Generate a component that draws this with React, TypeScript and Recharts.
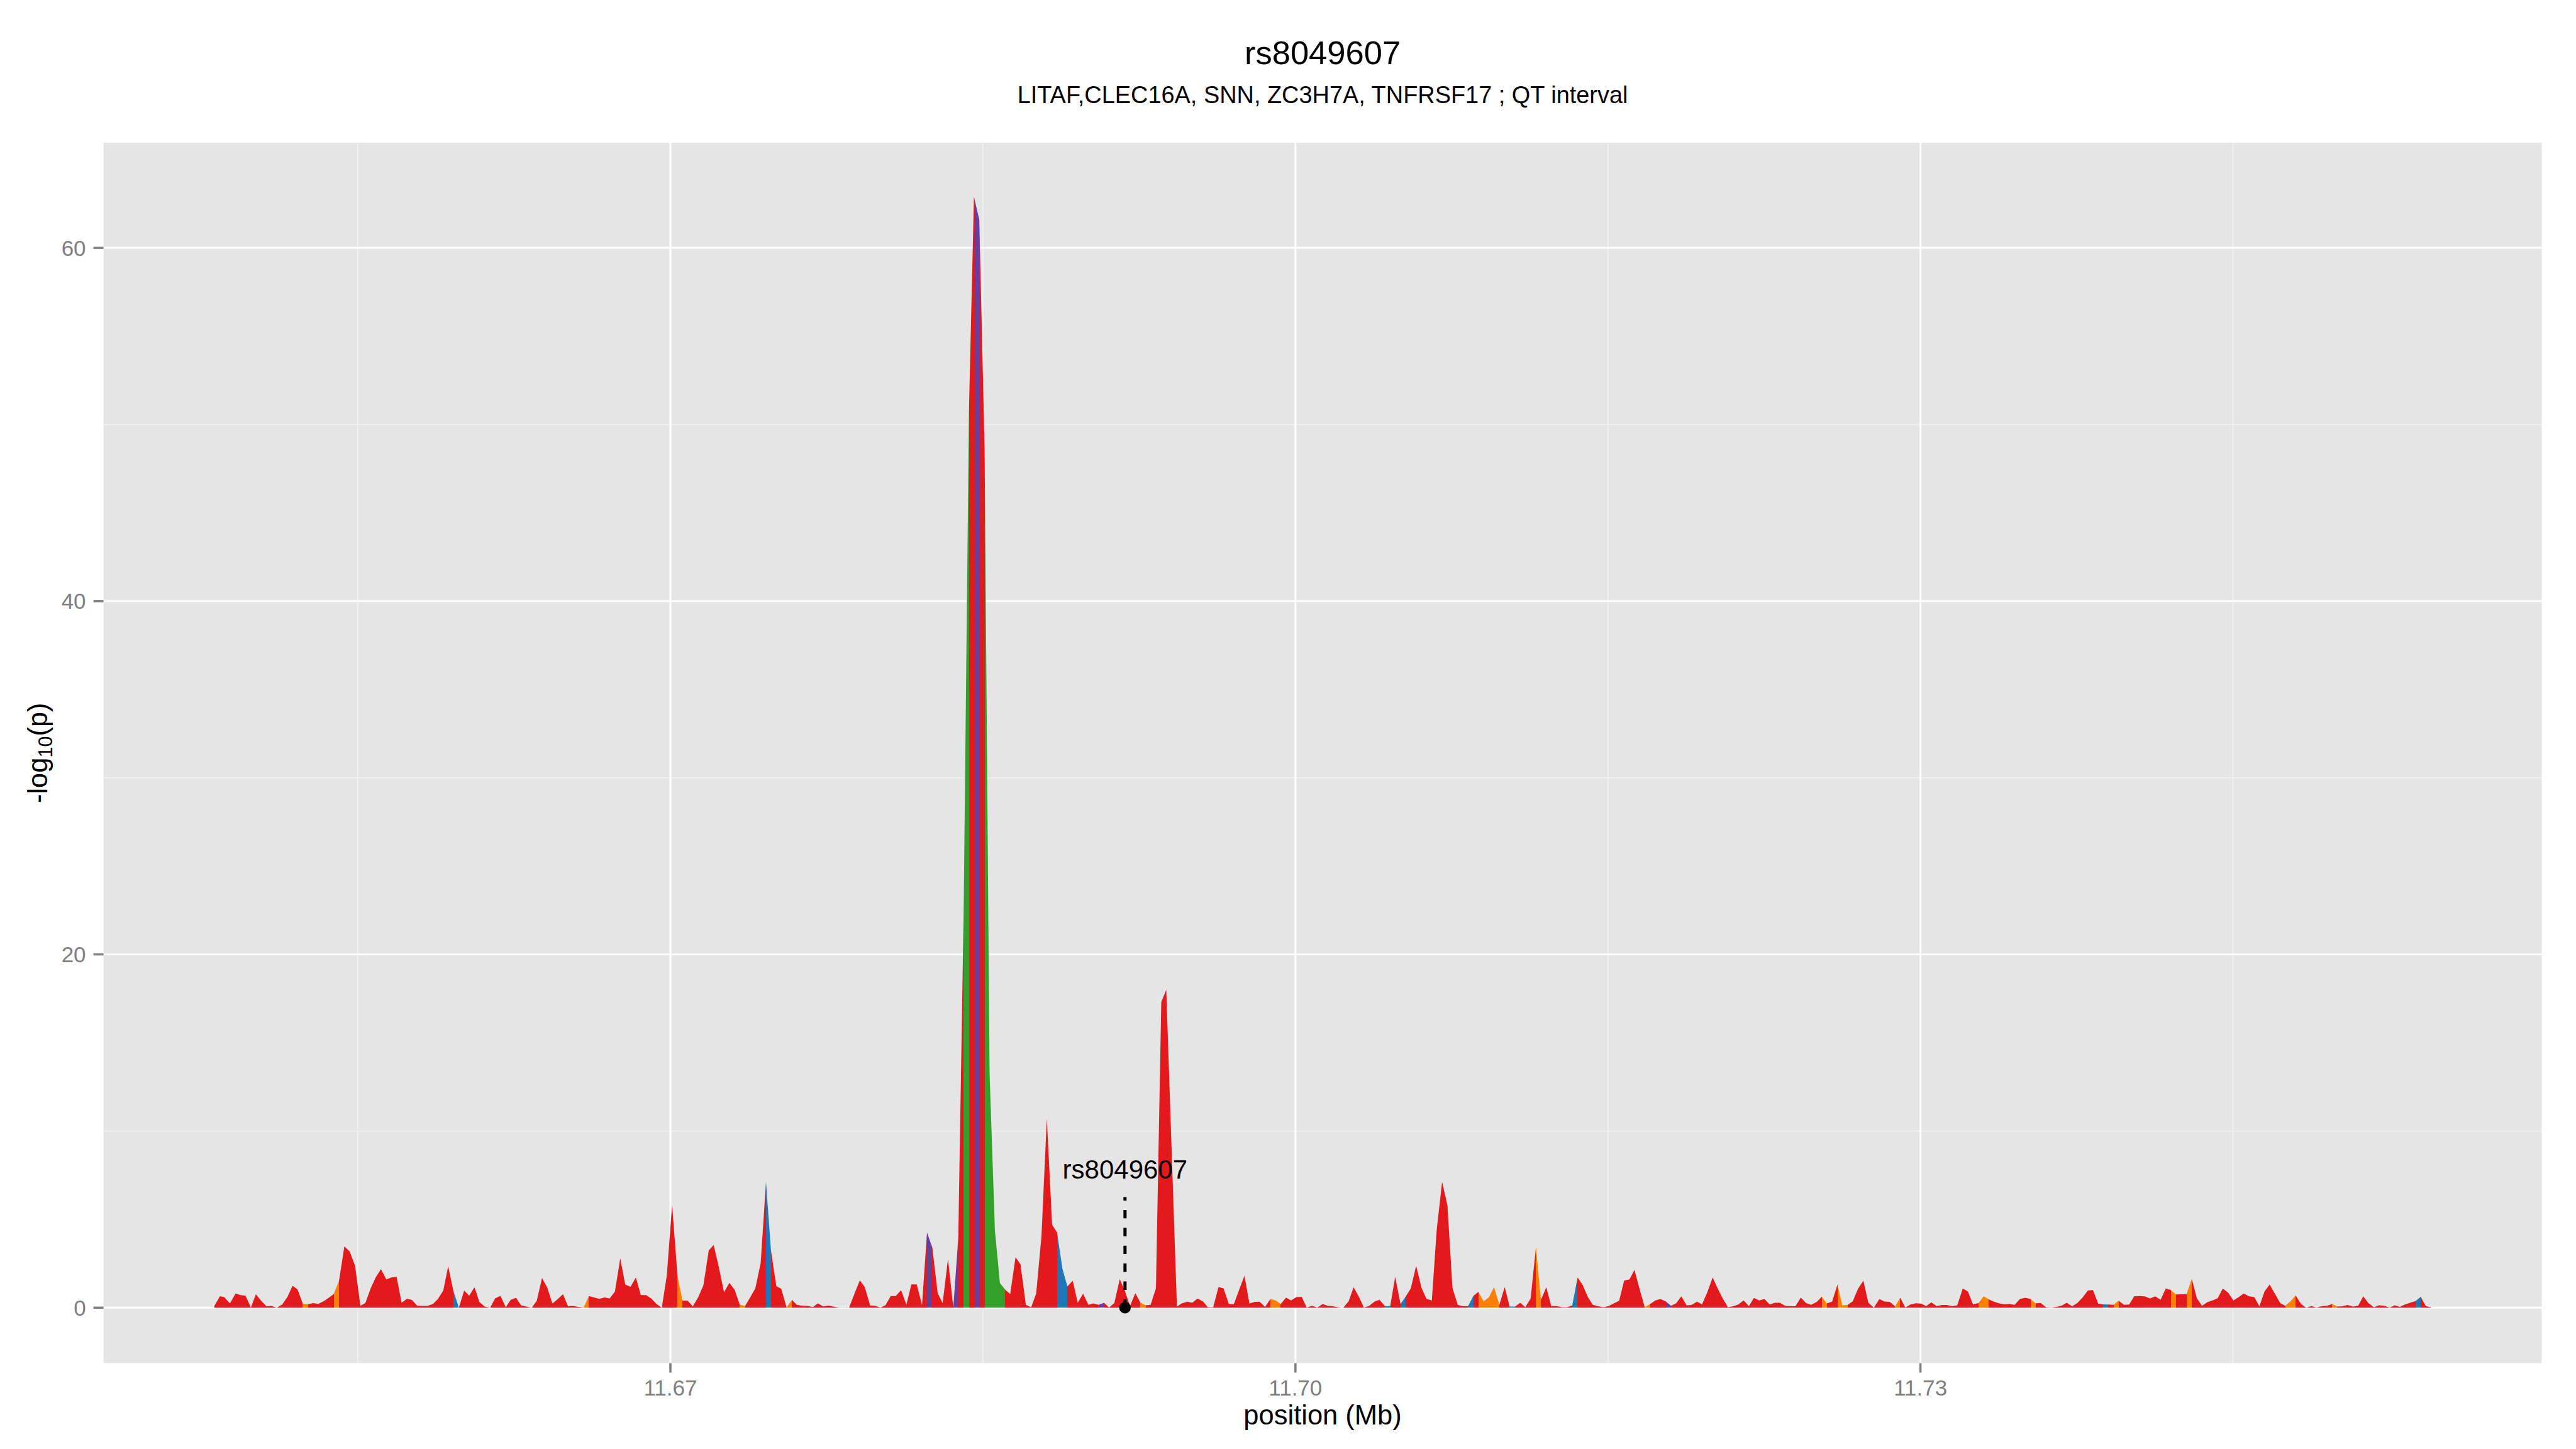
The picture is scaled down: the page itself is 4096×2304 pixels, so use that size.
import React from 'react';
import {
  ComposedChart,
  Area,
  XAxis,
  YAxis,
  CartesianGrid,
  ReferenceLine,
  ReferenceDot,
} from 'recharts';

// ---------------- data ----------------
const TITLE = 'rs8049607';
const SUBTITLE = 'LITAF,CLEC16A, SNN, ZC3H7A, TNFRSF17 ; QT interval';
const X_TITLE = 'position (Mb)';

const X_MAJOR_TICKS = [11670000, 11700000, 11730000];
const X_MINOR_TICKS = [11655000, 11685000, 11715000, 11745000];
const Y_MAJOR_TICKS = [0, 20, 40, 60];
const Y_MINOR_TICKS = [10, 30, 50];

const SNP_NAME = 'rs8049607';
const SNP_POSITION = 11691820;
const SNP_STEM_TOP = 6.26;
const SNP_LABEL_Y = 7.3;

// LD class colour keys
const LD_COLORS: Record<string, string> = {
  r: '#E31A1C',
  o: '#FF7F00',
  b: '#1F78B4',
  g: '#33A02C',
  p: '#6A3D9A',
};

// SNP positions (bp)
const POSITION_BP = [
  11648106, 11648379, 11648584, 11648857, 11649130, 11649368, 11649607, 11649863, 11650102, 11650375,
  11650614, 11650853, 11651109, 11651365, 11651621, 11651860, 11652099, 11652354, 11652610, 11652849,
  11653105, 11653344, 11653600, 11653839, 11654095, 11654351, 11654607, 11654863, 11655119, 11655358,
  11655614, 11655852, 11656108, 11656364, 11656603, 11656859, 11657098, 11657354, 11657593, 11657849,
  11658088, 11658344, 11658600, 11658838, 11659094, 11659333, 11659589, 11659845, 11660101, 11660340,
  11660596, 11660835, 11661091, 11661347, 11661586, 11661842, 11662097, 11662336, 11662592, 11662831,
  11663087, 11663343, 11663582, 11663838, 11664094, 11664333, 11664589, 11664845, 11665083, 11665339,
  11665595, 11665834, 11666090, 11666329, 11666585, 11666841, 11667080, 11667336, 11667592, 11667831,
  11668087, 11668342, 11668581, 11668837, 11669093, 11669332, 11669588, 11669827, 11670083, 11670339,
  11670578, 11670834, 11671073, 11671329, 11671584, 11671840, 11672079, 11672335, 11672574, 11672830,
  11673086, 11673325, 11673581, 11673837, 11674076, 11674332, 11674588, 11674826, 11675082, 11675320,
  11675576, 11675832, 11676071, 11676327, 11676583, 11676839, 11677078, 11677334, 11677573, 11677829,
  11678085, 11678341, 11678579, 11678835, 11679091, 11679330, 11679586, 11679825, 11680081, 11680320,
  11680576, 11680815, 11681071, 11681327, 11681566, 11681821, 11682077, 11682316, 11682572, 11682828,
  11683067, 11683323, 11683579, 11683818, 11684074, 11684330, 11684569, 11684825, 11685080, 11685319,
  11685575, 11685814, 11686070, 11686309, 11686565, 11686804, 11687060, 11687316, 11687555, 11687811,
  11688067, 11688322, 11688561, 11688817, 11689056, 11689312, 11689551, 11689807, 11690063, 11690302,
  11690558, 11690814, 11691053, 11691308, 11691564, 11691803, 11692059, 11692315, 11692554, 11692810,
  11693049, 11693305, 11693561, 11693800, 11694056, 11694312, 11694550, 11694806, 11695045, 11695301,
  11695557, 11695796, 11696052, 11696308, 11696547, 11696803, 11697042, 11697298, 11697553, 11697792,
  11698048, 11698287, 11698543, 11698799, 11699055, 11699294, 11699550, 11699789, 11700045, 11700301,
  11700540, 11700795, 11701051, 11701307, 11701546, 11701802, 11702041, 11702297, 11702553, 11702792,
  11703048, 11703287, 11703543, 11703799, 11704038, 11704294, 11704550, 11704788, 11705044, 11705300,
  11705539, 11705795, 11706051, 11706290, 11706546, 11706785, 11707041, 11707297, 11707536, 11707791,
  11708030, 11708286, 11708542, 11708781, 11709037, 11709293, 11709532, 11709788, 11710044, 11710283,
  11710539, 11710795, 11711033, 11711289, 11711545, 11711784, 11712040, 11712279, 11712535, 11712791,
  11713030, 11713286, 11713542, 11713781, 11714037, 11714275, 11714531, 11714787, 11715026, 11715282,
  11715538, 11715777, 11716033, 11716272, 11716528, 11716767, 11717023, 11717278, 11717517, 11717773,
  11718029, 11718268, 11718524, 11718780, 11719019, 11719275, 11719514, 11719770, 11720026, 11720264,
  11720520, 11720759, 11721015, 11721254, 11721510, 11721766, 11722005, 11722261, 11722517, 11722756,
  11723012, 11723251, 11723506, 11723762, 11724001, 11724257, 11724513, 11724752, 11725008, 11725264,
  11725503, 11725759, 11726015, 11726254, 11726510, 11726748, 11727004, 11727260, 11727499, 11727765,
  11728028, 11728274, 11728520, 11728783, 11729029, 11729275, 11729520, 11729784, 11730029, 11730275,
  11730521, 11730784, 11731030, 11731276, 11731522, 11731767, 11732031, 11732277, 11732522, 11732786,
  11733032, 11733277, 11733523, 11733786, 11734032, 11734278, 11734524, 11734770, 11735033, 11735279,
  11735524, 11735770, 11736034, 11736279, 11736525, 11736771, 11737017, 11737280, 11737526, 11737772,
  11738035, 11738281, 11738527, 11738772, 11739018, 11739264, 11739510, 11739773, 11740019, 11740265,
  11740528, 11740774, 11741020, 11741265, 11741529, 11741774, 11742020, 11742266, 11742529, 11742775,
  11743021, 11743267, 11743512, 11743776, 11744022, 11744267, 11744513, 11744776, 11745022, 11745268,
  11745514, 11745777, 11746023, 11746269, 11746515, 11746760, 11747024, 11747269, 11747515, 11747761,
  11748007, 11748270, 11748516, 11748762, 11749007, 11749253, 11749517, 11749762, 11750008, 11750254,
  11750500, 11750763, 11751009, 11751255, 11751500, 11751764, 11752010, 11752255, 11752519, 11752764,
  11753010, 11753256, 11753502, 11753765, 11754011, 11754257, 11754503,
];

// -log10(p)
const NEG_LOG10_P = [
  0.09, 0.65, 0.6, 0.24, 0.8, 0.71, 0.68, 0.01, 0.76, 0.37,
  0.08, 0.1, 0.0, 0.18, 0.62, 1.24, 1.04, 0.23, 0.2, 0.26,
  0.22, 0.36, 0.56, 0.77, 1.53, 3.47, 3.18, 2.38, 0.11, 0.26,
  1.1, 1.71, 2.18, 1.6, 1.71, 1.75, 0.28, 0.51, 0.44, 0.11,
  0.1, 0.1, 0.21, 0.49, 0.96, 2.34, 0.92, 0.0, 0.97, 0.68,
  1.16, 0.31, 0.06, 0.0, 0.53, 0.67, 0.03, 0.45, 0.56, 0.14,
  0.06, 0.0, 0.38, 1.68, 1.12, 0.23, 0.48, 0.77, 0.08, 0.09,
  0.05, 0.01, 0.66, 0.58, 0.5, 0.58, 0.52, 0.91, 2.79, 1.31,
  1.19, 1.71, 0.71, 0.71, 0.51, 0.21, 0.0, 1.83, 5.83, 1.81,
  0.4, 0.39, 0.07, 0.58, 1.27, 3.24, 3.55, 2.24, 0.87, 1.41,
  1.01, 0.18, 0.09, 0.6, 1.1, 2.52, 7.12, 3.25, 1.22, 1.07,
  0.01, 0.44, 0.16, 0.11, 0.1, 0.04, 0.24, 0.07, 0.12, 0.06,
  0.01, 0.01, 0.01, 0.79, 1.55, 1.17, 0.13, 0.11, 0.01, 0.14,
  0.66, 0.66, 0.99, 0.17, 1.32, 1.32, 0.15, 4.26, 3.4, 0.82,
  0.26, 2.76, 0.01, 3.97, 22.3, 50.8, 62.9, 61.6, 48.7, 13.3,
  4.4, 1.4, 1.02, 0.77, 2.86, 2.46, 0.16, 0.03, 0.79, 4.06,
  10.7, 4.69, 4.26, 2.2, 1.2, 1.53, 0.28, 0.79, 0.16, 0.24,
  0.16, 0.28, 0.01, 0.26, 1.61, 1.0, 0.1, 0.82, 0.3, 0.14,
  0.16, 1.1, 17.3, 18.0, 9.0, 0.06, 0.24, 0.34, 0.28, 0.52,
  0.36, 0.03, 0.03, 1.17, 1.1, 0.21, 0.19, 1.02, 1.81, 0.23,
  0.33, 0.33, 0.05, 0.49, 0.41, 0.21, 0.57, 0.41, 0.6, 0.62,
  0.01, 0.11, 0.01, 0.21, 0.11, 0.08, 0.03, 0.0, 0.36, 1.16,
  0.62, 0.01, 0.11, 0.35, 0.45, 0.09, 0.09, 1.75, 0.21, 0.64,
  1.1, 2.38, 1.12, 0.5, 0.41, 4.46, 7.12, 5.78, 1.12, 0.16,
  0.08, 0.08, 0.67, 0.89, 0.36, 0.6, 1.17, 0.16, 1.17, 0.06,
  0.06, 0.28, 0.03, 0.52, 3.43, 0.44, 1.16, 0.09, 0.09, 0.03,
  0.03, 0.13, 1.71, 1.3, 0.6, 0.16, 0.08, 0.03, 0.09, 0.24,
  0.39, 1.53, 1.6, 2.14, 1.02, 0.03, 0.21, 0.41, 0.49, 0.36,
  0.11, 0.24, 0.64, 0.13, 0.16, 0.34, 0.19, 0.87, 1.71, 1.1,
  0.5, 0.03, 0.08, 0.18, 0.41, 0.09, 0.55, 0.41, 0.49, 0.18,
  0.28, 0.28, 0.11, 0.08, 0.08, 0.57, 0.26, 0.16, 0.31, 0.62,
  0.24, 0.34, 1.3, 0.13, 0.16, 0.36, 1.07, 1.53, 0.28, 0.0,
  0.49, 0.35, 0.33, 0.08, 0.56, 0.01, 0.18, 0.25, 0.23, 0.09,
  0.3, 0.09, 0.15, 0.15, 0.08, 0.14, 1.09, 0.92, 0.19, 0.26,
  0.64, 0.47, 0.34, 0.24, 0.19, 0.21, 0.16, 0.49, 0.56, 0.49,
  0.25, 0.26, 0.03, 0.01, 0.05, 0.11, 0.28, 0.08, 0.26, 0.56,
  0.97, 1.0, 0.23, 0.19, 0.18, 0.16, 0.39, 0.16, 0.18, 0.65,
  0.66, 0.64, 0.52, 0.64, 0.45, 1.09, 1.0, 0.75, 0.76, 0.77,
  1.63, 0.54, 0.11, 0.31, 0.41, 0.54, 1.09, 0.84, 0.41, 0.59,
  0.8, 0.64, 0.6, 0.08, 0.92, 1.31, 0.77, 0.26, 0.11, 0.36,
  0.69, 0.21, 0.0, 0.09, 0.01, 0.08, 0.11, 0.21, 0.06, 0.08,
  0.15, 0.06, 0.11, 0.64, 0.26, 0.03, 0.14, 0.11, 0.01, 0.14,
  0.05, 0.18, 0.28, 0.38, 0.62, 0.09, 0.03,
];

// LD class of the segment that starts at each SNP
const LD_CLASS = [
  'r', 'r', 'r', 'r', 'r', 'r', 'r', 'r', 'r', 'r',
  'r', 'r', 'r', 'r', 'r', 'r', 'r', 'o', 'r', 'r',
  'r', 'r', 'r', 'o', 'r', 'r', 'r', 'r', 'r', 'r',
  'r', 'r', 'r', 'r', 'r', 'r', 'r', 'r', 'r', 'r',
  'r', 'r', 'r', 'r', 'r', 'r', 'b', 'r', 'r', 'r',
  'r', 'r', 'r', 'r', 'r', 'r', 'r', 'r', 'r', 'r',
  'r', 'r', 'r', 'r', 'r', 'r', 'r', 'r', 'r', 'r',
  'r', 'o', 'r', 'r', 'r', 'r', 'r', 'r', 'r', 'r',
  'r', 'r', 'r', 'r', 'r', 'r', 'r', 'r', 'r', 'o',
  'r', 'r', 'r', 'r', 'r', 'r', 'r', 'r', 'r', 'r',
  'r', 'o', 'r', 'r', 'r', 'r', 'b', 'r', 'r', 'r',
  'o', 'r', 'r', 'r', 'r', 'r', 'r', 'r', 'r', 'r',
  'b', 'r', 'r', 'r', 'r', 'r', 'r', 'r', 'r', 'r',
  'r', 'r', 'r', 'r', 'r', 'r', 'r', 'p', 'r', 'r',
  'r', 'r', 'p', 'r', 'g', 'r', 'p', 'r', 'g', 'g',
  'g', 'g', 'r', 'r', 'r', 'r', 'r', 'r', 'r', 'r',
  'r', 'r', 'b', 'b', 'r', 'r', 'r', 'r', 'r', 'r',
  'p', 'r', 'r', 'r', 'r', 'r', 'r', 'r', 'o', 'r',
  'r', 'r', 'r', 'r', 'r', 'r', 'r', 'r', 'r', 'r',
  'r', 'r', 'r', 'r', 'r', 'r', 'r', 'r', 'r', 'r',
  'r', 'r', 'r', 'o', 'o', 'r', 'r', 'r', 'r', 'r',
  'r', 'r', 'r', 'r', 'r', 'r', 'r', 'r', 'r', 'r',
  'r', 'r', 'r', 'r', 'r', 'b', 'r', 'r', 'b', 'r',
  'r', 'r', 'r', 'r', 'r', 'r', 'r', 'r', 'r', 'r',
  'r', 'b', 'r', 'o', 'o', 'o', 'o', 'r', 'r', 'b',
  'r', 'r', 'r', 'r', 'o', 'r', 'r', 'r', 'r', 'r',
  'r', 'b', 'r', 'r', 'r', 'r', 'r', 'r', 'r', 'r',
  'r', 'r', 'r', 'r', 'r', 'o', 'r', 'r', 'r', 'p',
  'r', 'r', 'r', 'r', 'r', 'r', 'r', 'r', 'r', 'r',
  'r', 'r', 'r', 'r', 'r', 'r', 'r', 'r', 'r', 'r',
  'r', 'r', 'r', 'r', 'r', 'r', 'r', 'r', 'r', 'o',
  'r', 'r', 'o', 'o', 'r', 'r', 'r', 'r', 'r', 'r',
  'r', 'r', 'r', 'o', 'r', 'r', 'r', 'r', 'r', 'r',
  'r', 'r', 'r', 'r', 'r', 'r', 'r', 'r', 'r', 'o',
  'o', 'r', 'r', 'r', 'r', 'r', 'r', 'r', 'r', 'o',
  'r', 'r', 'r', 'r', 'r', 'r', 'r', 'r', 'r', 'r',
  'r', 'r', 'r', 'b', 'r', 'o', 'r', 'r', 'r', 'r',
  'r', 'r', 'r', 'r', 'r', 'r', 'o', 'r', 'r', 'o',
  'r', 'r', 'r', 'r', 'r', 'r', 'r', 'r', 'r', 'r',
  'r', 'r', 'r', 'r', 'r', 'r', 'r', 'r', 'o', 'o',
  'r', 'r', 'r', 'r', 'r', 'r', 'r', 'o', 'r', 'r',
  'r', 'r', 'r', 'r', 'r', 'r', 'r', 'r', 'r', 'r',
  'r', 'r', 'r', 'b', 'r', 'r', 'r',
];

// ---------------- layout ----------------
const W = 4096;
const H = 2304;
const FONT = "'Liberation Sans', Arial, Helvetica, sans-serif";
const PANEL_LEFT = 164.6;
const PANEL_RIGHT = 4041.5;
const PANEL_TOP = 227;
const PANEL_BOTTOM = 2167.5;
const PANEL_CX = (PANEL_LEFT + PANEL_RIGHT) / 2;

const X_DOMAIN: [number, number] = [11642790, 11759820];
const Y_DOMAIN: [number, number] = [-3.14, 65.95];

const rows = POSITION_BP.map((pos, i) => ({ pos, logp: NEG_LOG10_P[i] }));

function buildStops() {
  const x0 = POSITION_BP[0];
  const x1 = POSITION_BP[POSITION_BP.length - 1];
  const span = x1 - x0;
  const bands: { a: number; b: number; c: string }[] = [];
  for (let i = 0; i < POSITION_BP.length - 1; i++) {
    const c = LD_COLORS[LD_CLASS[i]] || LD_COLORS.r;
    const a = (POSITION_BP[i] - x0) / span;
    const b = (POSITION_BP[i + 1] - x0) / span;
    const last = bands[bands.length - 1];
    if (last && last.c === c) last.b = b;
    else bands.push({ a, b, c });
  }
  const out: React.ReactElement[] = [];
  bands.forEach((bd, k) => {
    out.push(<stop key={`s${k}a`} offset={bd.a} stopColor={bd.c} />);
    out.push(<stop key={`s${k}b`} offset={bd.b} stopColor={bd.c} />);
  });
  return out;
}

const fmtX = (v: number) => (v / 1e6).toFixed(2);

export default function App() {
  const stops = buildStops();
  return (
    <div style={{ position: 'absolute', left: 0, top: 0, width: W, height: H, background: '#fff', fontFamily: FONT }}>
      <ComposedChart
        width={W}
        height={H}
        data={rows}
        margin={{ top: PANEL_TOP, right: W - PANEL_RIGHT, bottom: 0, left: 0 }}
      >
        <defs>
          <linearGradient id="ldFill" x1="0" y1="0" x2="1" y2="0">
            {stops}
          </linearGradient>
        </defs>
        <CartesianGrid
          fill="#E5E5E5"
          stroke="#F2F2F2"
          strokeWidth={1.5}
          horizontalValues={Y_MINOR_TICKS}
          verticalValues={X_MINOR_TICKS}
        />
        <CartesianGrid
          fill="none"
          stroke="#FFFFFF"
          strokeWidth={3}
          horizontalValues={Y_MAJOR_TICKS}
          verticalValues={X_MAJOR_TICKS}
        />
        <XAxis
          dataKey="pos"
          type="number"
          domain={X_DOMAIN}
          allowDataOverflow
          ticks={X_MAJOR_TICKS}
          tickFormatter={fmtX}
          height={H - PANEL_BOTTOM}
          axisLine={false}
          tickSize={15}
          tickMargin={12}
          tickLine={{ stroke: '#7F7F7F', strokeWidth: 3.5 }}
          tick={{ fill: '#7F7F7F', fontSize: 35, fontFamily: FONT }}
        />
        <YAxis
          type="number"
          domain={Y_DOMAIN}
          allowDataOverflow
          ticks={Y_MAJOR_TICKS}
          width={PANEL_LEFT}
          axisLine={false}
          tickSize={16}
          tickMargin={12}
          tickLine={{ stroke: '#7F7F7F', strokeWidth: 3.5 }}
          tick={{ fill: '#7F7F7F', fontSize: 35, fontFamily: FONT }}
        />
        <Area
          dataKey="logp"
          type="linear"
          baseValue={0}
          stroke="none"
          fill="url(#ldFill)"
          fillOpacity={1}
          dot={false}
          activeDot={false}
          isAnimationActive={false}
        />
        <ReferenceLine
          segment={[
            { x: SNP_POSITION, y: 0 },
            { x: SNP_POSITION, y: SNP_STEM_TOP },
          ]}
          stroke="#000"
          strokeWidth={5}
          strokeDasharray="13.4 15"
          ifOverflow="visible"
        />
        <ReferenceDot x={SNP_POSITION} y={0} r={9.2} fill="#000" stroke="none" ifOverflow="visible" />
        <ReferenceDot
          x={SNP_POSITION}
          y={SNP_LABEL_Y}
          r={1}
          ifOverflow="visible"
          shape={(p: any) => (
            <text x={p.cx} y={p.cy} textAnchor="middle" fontSize={42} fontFamily={FONT} fill="#000">
              {SNP_NAME}
            </text>
          )}
        />
      </ComposedChart>
      <svg
        width={W}
        height={H}
        style={{ position: 'absolute', left: 0, top: 0, pointerEvents: 'none' }}
      >
        <text x={PANEL_CX} y={101.5} textAnchor="middle" fontSize={52.5} fontFamily={FONT} fill="#000">
          {TITLE}
        </text>
        <text x={PANEL_CX} y={163.5} textAnchor="middle" fontSize={37.9} fontFamily={FONT} fill="#000">
          {SUBTITLE}
        </text>
        <text x={PANEL_CX} y={2264.7} textAnchor="middle" fontSize={43.5} fontFamily={FONT} fill="#000">
          {X_TITLE}
        </text>
        <text
          transform={`translate(75, ${(PANEL_TOP + PANEL_BOTTOM) / 2}) rotate(-90)`}
          textAnchor="middle"
          fontSize={43.5}
          fontFamily={FONT}
          fill="#000"
        >
          <tspan>-log</tspan>
          <tspan fontSize={30.5} dy={8}>10</tspan>
          <tspan dy={-8}>(p)</tspan>
        </text>
      </svg>
    </div>
  );
}
